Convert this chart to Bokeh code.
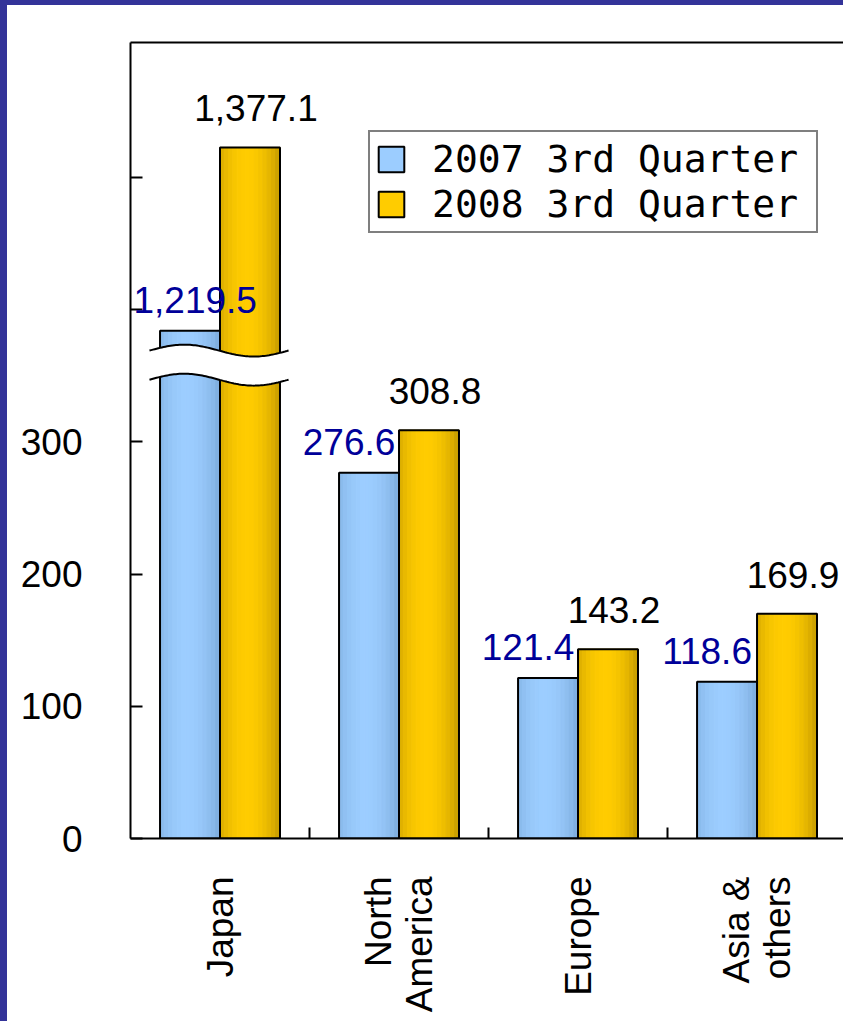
import numpy as np
from bokeh.plotting import figure
from bokeh.layouts import column, row
from bokeh.models import (ColumnDataSource, Range1d, FixedTicker, LinearAxis,
                          Legend, LegendItem, LabelSet, Div)
from bokeh.transform import dodge
from bokeh.core.properties import value
from bokeh.embed import file_html
from bokeh.resources import INLINE

# ---------------- data ----------------
categories = ["Japan", "North\nAmerica", "Europe", "Asia &\nothers"]
q3_2007 = [1219.5, 276.6, 121.4, 118.6]
q3_2008 = [1377.1, 308.8, 143.2, 169.9]
series_names = ["2007 3rd Quarter", "2008 3rd Quarter"]
y_ticks = [0, 100, 200, 300, 400, 500]
y_tick_labels = {0: "0", 100: "100", 200: "200", 300: "300", 400: "", 500: ""}

# broken value axis: values above the break are drawn compressed
BREAK_VALUE = 1190.0
BREAK_DISPLAY = 358.0
UPPER_SCALE = 0.88


def to_display(v):
    if v <= BREAK_DISPLAY:
        return v
    return BREAK_DISPLAY + (v - BREAK_VALUE) * UPPER_SCALE


# ---------------- layout constants ----------------
PAGE_W, PAGE_H = 843, 1021
EDGE_L, EDGE_T = 7, 5
W, H = PAGE_W - EDGE_L, PAGE_H - EDGE_T
X0, X1 = -0.5, 3.483
BORDER_L = 123
FONT_PX = 37
BAR_W = 0.335
OFF = 0.1675
N = 14
px_per_unit = (W - BORDER_L) / (X1 - X0)


def text_px(s, size):
    narrow = sum(1 for ch in s if ch in ",.")
    return (0.556 * (len(s) - narrow) + 0.278 * narrow) * size


idx = list(range(len(categories)))
lab07 = [f"{v:,.1f}" for v in q3_2007]
lab08 = [f"{v:,.1f}" for v in q3_2008]
# blue labels sit left of their bar; keep them inside the plotting frame
off07 = []
for i, s in zip(idx, lab07):
    cx = (i - OFF - X0) * px_per_unit - 20
    left = cx - text_px(s, FONT_PX) / 2
    off07.append(-20 + max(0.0, 3 - left))

src = ColumnDataSource(dict(
    idx=idx,
    top07=[to_display(v) for v in q3_2007],
    top08=[to_display(v) for v in q3_2008],
    lab07=lab07, lab08=lab08, off07=off07,
))

p = figure(width=W, height=H, output_backend="svg", toolbar_location=None,
           x_range=Range1d(X0, X1), y_range=Range1d(0, 602),
           min_border_left=BORDER_L, min_border_top=37, min_border_bottom=183,
           min_border_right=0, background_fill_color="white",
           border_fill_color="white", outline_line_color=None)
p.xgrid.visible = False
p.ygrid.visible = False


def shade(dark, light, u):
    w = max(0.0, 1.0 - abs(u - 0.45) / 0.55)
    w = np.sin(w * np.pi / 2) ** 0.8
    c = [int(round(d + (l - d) * w)) for d, l in zip(dark, light)]
    return "#%02x%02x%02x" % tuple(c)


palettes = [((0x7c, 0xab, 0xdb), (0x9c, 0xcd, 0xff)),
            ((0xc4, 0x9a, 0x00), (0xff, 0xcc, 0x00))]
tops = ["top07", "top08"]
offsets = [-OFF, OFF]
legend_items = []
for s in range(2):
    dark, light = palettes[s]
    mid_r = None
    for k in range(N):
        u = (k + 0.5) / N
        col = shade(dark, light, u)
        xo = offsets[s] - BAR_W / 2 + (k + 0.5) * BAR_W / N
        r = p.vbar(x=dodge("idx", xo, range=p.x_range), top=tops[s], bottom=0,
                   width=BAR_W / N, source=src, fill_color=col, line_color=col,
                   line_width=1)
        if k == int(N * 0.45):
            mid_r = r
    outline = p.vbar(x=dodge("idx", offsets[s], range=p.x_range), top=tops[s],
                     bottom=0, width=BAR_W, source=src, fill_color=None,
                     line_color="black", line_width=2)
    legend_items.append(LegendItem(label=series_names[s], renderers=[mid_r, outline]))

# break marks on the Japan bars
t = np.linspace(0, 1, 80)
wx = 0 - 0.394 + t * 0.777
amp = 4.5
upper = BREAK_DISPLAY + 11 + amp * np.sin(2 * np.pi * t)
lower = BREAK_DISPLAY - 11 + amp * np.sin(2 * np.pi * t)
p.patch(np.concatenate([wx, wx[::-1]]), np.concatenate([upper, lower[::-1]]),
        fill_color="white", line_color=None)
p.line(wx, upper, line_color="black", line_width=2)
p.line(wx, lower, line_color="black", line_width=2)

# value labels
p.add_layout(LabelSet(x=dodge("idx", -OFF, range=p.x_range), y="top07", text="lab07",
                      source=src, text_align="center", text_baseline="alphabetic",
                      x_offset="off07", y_offset=18, text_font=value("Liberation Sans"),
                      text_font_size=f"{FONT_PX}px", text_color="#000099"))
p.add_layout(LabelSet(x=dodge("idx", OFF, range=p.x_range), y="top08", text="lab08",
                      source=src, text_align="center", text_baseline="alphabetic",
                      x_offset=6, y_offset=26, text_font=value("Liberation Sans"),
                      text_font_size=f"{FONT_PX}px", text_color="black"))

# axes
ya = p.yaxis[0]
ya.ticker = FixedTicker(ticks=y_ticks)
ya.major_label_overrides = y_tick_labels
ya.major_tick_in = 12
ya.major_tick_out = 0
ya.minor_tick_line_color = None
ya.axis_line_width = 2
ya.major_tick_line_width = 2
ya.major_label_standoff = 48
ya.major_label_text_font = "Liberation Sans"
ya.major_label_text_font_size = f"{FONT_PX}px"
ya.major_label_text_color = "black"

xa = p.xaxis[0]
xa.ticker = FixedTicker(ticks=idx, minor_ticks=[0.5, 1.5, 2.5])
xa.major_label_overrides = {i: c for i, c in zip(idx, categories)}
xa.major_tick_line_color = None
xa.minor_tick_in = 11
xa.minor_tick_out = 0
xa.minor_tick_line_width = 2
xa.axis_line_width = 2
xa.major_label_orientation = np.pi / 2
xa.major_label_standoff = 32
xa.major_label_text_font = "Liberation Sans"
xa.major_label_text_font_size = f"{FONT_PX}px"
xa.major_label_text_color = "black"
xa.major_label_text_line_height = 1.0

top_axis = LinearAxis(ticker=FixedTicker(ticks=[]), major_label_text_font_size="0px",
                      axis_line_width=2, major_tick_line_color=None,
                      minor_tick_line_color=None)
p.add_layout(top_axis, "above")

legend = Legend(items=legend_items, location=(238, 605), padding=5, spacing=1,
                glyph_width=32, glyph_height=32, label_standoff=25, label_width=379,
                label_text_font="DejaVu Sans Mono", label_text_font_size="38px",
                label_text_color="black", label_text_line_height=0.95,
                border_line_color="black", border_line_width=2,
                background_fill_color="white", background_fill_alpha=1, margin=0)
p.add_layout(legend)

# dark frame of the slide
edge = {"background-color": "#333399"}
top_bar = Div(text="", width=PAGE_W, height=EDGE_T, margin=0, styles=edge)
left_bar = Div(text="", width=EDGE_L, height=H, margin=0, styles=edge)
page = column(top_bar, row(left_bar, p, spacing=0), spacing=0)

open("out.html", "w").write(file_html(page, INLINE, "chart"))
